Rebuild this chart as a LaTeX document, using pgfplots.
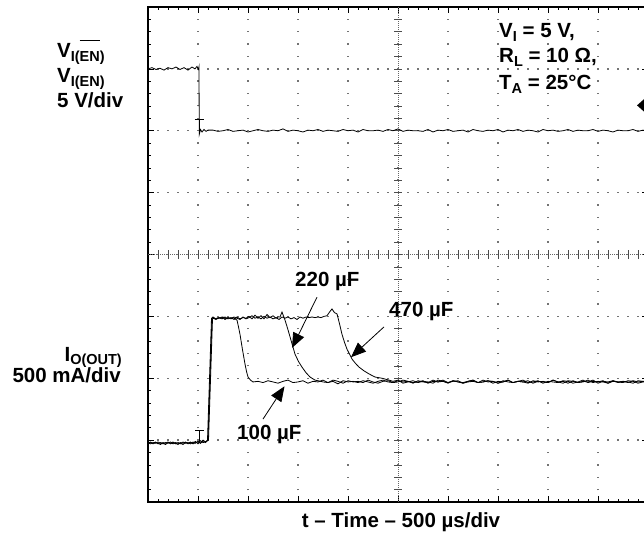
\documentclass[border=0pt]{standalone}
\usepackage{pgfplots}
\pgfplotsset{compat=1.18}
\usepackage{fontspec}
\setmainfont{Liberation Sans}
\usetikzlibrary{arrows.meta}
\newcommand\sub[1]{\raisebox{-4pt}{\fontsize{14.5}{14.5}\selectfont #1}}
\newcommand\subb[1]{\raisebox{-3pt}{\fontsize{14.5}{14.5}\selectfont #1}}
\newcommand\ovl[1]{\sbox0{#1}\rlap{\raisebox{21pt}{\rule{\wd0}{1.2pt}}}\usebox0}
\begin{document}
\begin{tikzpicture}[font=\fontsize{20.5}{23}\selectfont\bfseries]
\path[use as bounding box] (0,0) rectangle (644pt,534pt);
\begin{axis}[at={(148pt,32pt)}, anchor=south west, scale only axis,
  width=500pt, height=495pt, xmin=0, xmax=10, ymin=0, ymax=8,
  clip=false,
  axis line style={line width=1.6pt, black},
  xtick={0,...,10}, ytick={0,...,8},
  minor x tick num=4, minor y tick num=4,
  xticklabels={}, yticklabels={},
  tick align=inside, major tick length=6pt, minor tick length=3pt,
  every tick/.style={black, line width=0.6pt},
  grid=major,
  major x grid style={black!55, line width=1.3pt, dash pattern=on 1.3pt off 11.08pt, dash phase=0.65pt},
  major y grid style={black!55, line width=1.3pt, dash pattern=on 1.3pt off 8.7pt, dash phase=0.65pt},
  ]
% centre lines with small division ticks
\draw[black!60, line width=0.6pt, dash pattern=on 1pt off 1pt] (axis cs:0,4) -- (axis cs:10,4);
\draw[black!60, line width=0.6pt, dash pattern=on 1pt off 1pt] (axis cs:5,0) -- (axis cs:5,8);
\pgfplotsinvokeforeach{0.2,0.4,...,9.8}{\draw[black!70, line width=0.7pt] (axis cs:#1,3.935) -- (axis cs:#1,4.065);}
\pgfplotsinvokeforeach{0.2,0.4,...,7.8}{\draw[black!70, line width=0.7pt] (axis cs:4.92,#1) -- (axis cs:5.08,#1);}

% V_I(EN) trace
\addplot[black, line width=0.8pt] coordinates {
(0,7.00)(0.08,7.02)(0.16,6.99)(0.24,7.01)(0.32,6.98)(0.40,7.02)(0.48,7.00)(0.56,7.03)(0.64,6.99)(0.72,7.02)(0.80,6.98)(0.88,7.03)(0.94,7.00)(0.98,7.04)(1.01,6.99)(1.02,7.03)(1.025,5.94)(1.05,6.02)(1.08,5.98)(1.12,6.02)(1.16,5.99)(1.2,6.01)
(1.3,6.01)(1.4,5.99)(1.5,6.00)(1.6,6.02)(1.7,5.99)(1.8,6.00)(1.9,6.01)(2.0,5.98)(2.1,6.00)(2.2,6.02)(2.3,6.00)(2.4,5.99)(2.5,6.01)(2.6,6.00)(2.7,6.03)(2.8,5.99)(2.9,6.01)(3.0,6.00)(3.1,5.98)(3.2,6.01)(3.3,6.00)(3.4,6.02)(3.5,5.99)(3.6,6.01)(3.7,6.00)(3.8,5.99)(3.9,6.02)(4.0,6.00)(4.1,6.01)(4.2,5.98)(4.3,6.02)(4.4,6.00)(4.5,6.00)(4.6,6.01)(4.7,5.99)(4.8,6.02)(4.9,6.00)(5.0,6.03)(5.1,5.99)(5.2,6.01)(5.3,6.00)(5.4,6.00)(5.5,5.99)(5.6,6.02)(5.7,5.98)(5.8,6.01)(5.9,6.00)(6.0,6.02)(6.1,5.99)(6.2,6.00)(6.3,6.01)(6.4,5.98)(6.5,6.02)(6.6,6.00)(6.7,5.99)(6.8,6.01)(6.9,6.00)(7.0,6.02)(7.1,5.98)(7.2,6.01)(7.3,6.00)(7.4,6.02)(7.5,5.99)(7.6,6.01)(7.7,6.00)(7.8,5.98)(7.9,6.02)(8.0,6.00)(8.1,6.01)(8.2,5.99)(8.3,6.00)(8.4,6.02)(8.5,5.99)(8.6,6.01)(8.7,6.00)(8.8,6.00)(8.9,6.02)(9.0,5.99)(9.1,6.01)(9.2,6.00)(9.3,5.98)(9.4,6.01)(9.5,6.00)(9.6,6.00)(9.7,6.02)(9.8,5.99)(9.9,6.01)(10.0,6.00)
};

% I_O(OUT), 100 uF
\addplot[black, line width=0.8pt] coordinates {
(0,0.95)(0.05,0.97)(0.1,0.94)(0.15,0.96)(0.2,0.95)(0.25,0.93)(0.3,0.96)(0.35,0.95)(0.4,0.97)(0.45,0.94)(0.5,0.96)(0.55,0.95)(0.6,0.93)(0.65,0.96)(0.7,0.95)(0.75,0.97)(0.8,0.94)(0.85,0.96)(0.9,0.95)(0.95,0.98)(1.0,0.94)(1.05,0.99)(1.1,0.96)(1.14,0.97)(1.17,0.98)(1.20,1.01)(1.28,2.97)(1.30,2.99)(1.35,2.96)(1.40,2.98)(1.45,2.97)(1.50,2.99)(1.55,2.96)(1.60,2.98)(1.65,2.97)(1.70,2.98)(1.74,2.96)(1.78,2.94)(1.81,2.83)(1.84,2.71)(1.89,2.46)(1.94,2.23)(1.97,2.11)(2.00,2.02)(2.05,1.97)(2.10,1.94)
(2.2,1.95)(2.3,1.93)(2.4,1.96)(2.5,1.94)(2.6,1.92)(2.7,1.95)(2.8,1.97)(2.9,1.93)(3.0,1.94)(3.1,1.96)(3.2,1.92)(3.3,1.95)(3.4,1.94)(3.5,1.97)(3.6,1.93)(3.7,1.95)(3.8,1.91)(3.9,1.96)(4.0,1.94)(4.1,1.95)(4.2,1.93)(4.3,1.96)(4.4,1.94)(4.5,1.92)(4.6,1.95)(4.7,1.97)(4.8,1.94)(4.9,1.93)(5.0,1.96)(5.1,1.94)(5.2,1.95)(5.3,1.92)(5.4,1.96)(5.5,1.94)(5.6,1.93)(5.7,1.97)(5.8,1.94)(5.9,1.95)(6.0,1.92)(6.1,1.96)(6.2,1.94)(6.3,1.93)(6.4,1.95)(6.5,1.97)(6.6,1.93)(6.7,1.94)(6.8,1.96)(6.9,1.92)(7.0,1.95)(7.1,1.94)(7.2,1.97)(7.3,1.93)(7.4,1.95)(7.5,1.94)(7.6,1.92)(7.7,1.96)(7.8,1.94)(7.9,1.95)(8.0,1.93)(8.1,1.97)(8.2,1.94)(8.3,1.92)(8.4,1.96)(8.5,1.95)(8.6,1.93)(8.7,1.94)(8.8,1.97)(8.9,1.93)(9.0,1.95)(9.1,1.94)(9.2,1.92)(9.3,1.96)(9.4,1.94)(9.5,1.95)(9.6,1.93)(9.7,1.96)(9.8,1.94)(9.9,1.95)(10.0,1.93)
};

% I_O(OUT), 220 uF
\addplot[black, line width=0.8pt] coordinates {
(0,0.96)(0.05,0.94)(0.1,0.96)(0.15,0.95)(0.2,0.97)(0.25,0.95)(0.3,0.94)(0.35,0.96)(0.4,0.95)(0.45,0.97)(0.5,0.94)(0.55,0.96)(0.6,0.95)(0.65,0.94)(0.7,0.97)(0.75,0.95)(0.8,0.96)(0.85,0.94)(0.9,0.97)(0.95,0.95)(1.0,0.98)(1.05,0.95)(1.1,1.00)(1.15,0.97)(1.21,1.00)(1.29,2.96)
(1.30,2.97)(1.36,2.95)(1.42,2.98)(1.48,2.96)(1.54,2.99)(1.60,2.96)(1.66,2.98)(1.72,2.95)(1.78,2.99)(1.84,2.96)(1.90,2.98)(1.96,2.97)(2.02,3.00)(2.08,2.96)(2.14,3.02)(2.20,2.97)(2.26,3.01)(2.32,2.96)(2.38,3.03)(2.44,2.98)(2.50,3.01)(2.56,2.97)(2.60,2.99)
(2.64,2.99)(2.68,3.07)(2.74,2.94)(2.79,2.81)(2.84,2.67)(2.89,2.53)(2.94,2.39)(3.01,2.27)(3.08,2.18)(3.16,2.09)(3.24,2.02)(3.34,1.97)
(3.4,1.96)(3.5,1.94)(3.6,1.93)(3.7,1.97)(3.8,1.95)(3.9,1.92)(4.0,1.96)(4.1,1.94)(4.2,1.95)(4.3,1.93)(4.4,1.97)(4.5,1.94)(4.6,1.92)(4.7,1.95)(4.8,1.96)(4.9,1.93)(5.0,1.94)(5.1,1.97)(5.2,1.95)(5.3,1.93)(5.4,1.94)(5.5,1.96)(5.6,1.92)(5.7,1.95)(5.8,1.94)(5.9,1.97)(6.0,1.93)(6.1,1.95)(6.2,1.96)(6.3,1.92)(6.4,1.94)(6.5,1.95)(6.6,1.93)(6.7,1.97)(6.8,1.94)(6.9,1.95)(7.0,1.92)(7.1,1.96)(7.2,1.94)(7.3,1.93)(7.4,1.95)(7.5,1.97)(7.6,1.93)(7.7,1.94)(7.8,1.96)(7.9,1.92)(8.0,1.95)(8.1,1.94)(8.2,1.93)(8.3,1.96)(8.4,1.95)(8.5,1.92)(8.6,1.94)(8.7,1.97)(8.8,1.93)(8.9,1.95)(9.0,1.94)(9.1,1.96)(9.2,1.92)(9.3,1.95)(9.4,1.94)(9.5,1.93)(9.6,1.96)(9.7,1.95)(9.8,1.92)(9.9,1.94)(10.0,1.95)
};

% I_O(OUT), 470 uF
\addplot[black, line width=0.8pt] coordinates {
(0,0.94)(0.05,0.96)(0.1,0.95)(0.15,0.97)(0.2,0.94)(0.25,0.96)(0.3,0.95)(0.35,0.93)(0.4,0.96)(0.45,0.95)(0.5,0.97)(0.55,0.94)(0.6,0.96)(0.65,0.95)(0.7,0.93)(0.75,0.96)(0.8,0.95)(0.85,0.97)(0.9,0.94)(0.95,0.96)(1.0,0.97)(1.05,0.95)(1.1,0.99)(1.15,0.96)(1.19,1.00)(1.27,2.97)
(1.30,2.98)(1.36,2.96)(1.42,2.97)(1.48,2.99)(1.54,2.95)(1.60,2.98)(1.66,2.96)(1.72,2.99)(1.78,2.97)(1.84,2.95)(1.90,2.99)(1.96,2.96)(2.02,2.98)(2.08,3.01)(2.14,2.97)(2.20,2.99)(2.26,2.96)(2.32,3.00)(2.38,2.97)(2.44,2.99)(2.50,2.96)(2.56,2.98)(2.62,2.95)(2.68,2.99)(2.74,2.97)(2.80,2.99)(2.86,2.96)(2.92,2.98)(2.98,2.95)(3.04,2.99)(3.10,2.97)(3.16,2.99)(3.22,2.98)(3.28,2.99)(3.34,2.98)(3.40,2.99)(3.46,2.98)(3.52,3.00)(3.58,3.01)
(3.64,3.08)(3.68,3.12)(3.73,3.06)(3.78,3.04)(3.83,2.88)(3.88,2.71)(3.93,2.58)(3.98,2.47)(4.08,2.31)(4.15,2.24)(4.22,2.18)(4.32,2.12)(4.42,2.07)(4.54,2.02)(4.68,2.00)(4.82,1.97)
(4.9,1.95)(5.0,1.97)(5.1,1.92)(5.2,1.94)(5.3,1.96)(5.4,1.93)(5.5,1.95)(5.6,1.94)(5.7,1.92)(5.8,1.97)(5.9,1.95)(6.0,1.93)(6.1,1.96)(6.2,1.94)(6.3,1.92)(6.4,1.95)(6.5,1.97)(6.6,1.93)(6.7,1.94)(6.8,1.96)(6.9,1.95)(7.0,1.92)(7.1,1.94)(7.2,1.97)(7.3,1.93)(7.4,1.95)(7.5,1.94)(7.6,1.96)(7.7,1.92)(7.8,1.95)(7.9,1.94)(8.0,1.93)(8.1,1.97)(8.2,1.94)(8.3,1.95)(8.4,1.92)(8.5,1.96)(8.6,1.93)(8.7,1.95)(8.8,1.94)(8.9,1.97)(9.0,1.92)(9.1,1.95)(9.2,1.94)(9.3,1.96)(9.4,1.93)(9.5,1.95)(9.6,1.94)(9.7,1.92)(9.8,1.96)(9.9,1.95)(10.0,1.94)
};

% trigger markers and channel marker
\draw[black, line width=0.8pt] (axis cs:0.93,6.18) -- (axis cs:1.11,6.18) (axis cs:1.02,6.18) -- (axis cs:1.02,5.97);
\draw[black, line width=0.8pt] (axis cs:0.94,1.15) -- (axis cs:1.12,1.15) (axis cs:1.03,1.15) -- (axis cs:1.03,0.97);
\fill[black] (axis cs:9.78,6.41) -- (axis cs:9.92,6.51) -- (axis cs:9.92,6.31) -- cycle;

% annotation arrows
\draw[black, line width=0.8pt, -{Triangle[length=15pt,width=12pt]}] (axis cs:3.38,3.31) -- (axis cs:2.88,2.49);
\draw[black, line width=0.8pt, -{Triangle[length=15pt,width=12pt]}] (axis cs:4.72,2.83) -- (axis cs:4.06,2.34);
\draw[black, line width=0.8pt, -{Triangle[length=15pt,width=12pt]}] (axis cs:2.30,1.34) -- (axis cs:2.73,1.87);
\end{axis}

\begin{scope}[every node/.style={inner sep=0pt}]
\node[anchor=base west] at (57pt,476pt) {V\sub{I(\ovl{EN})}};
\node[anchor=base west] at (57pt,451pt) {V\sub{I(EN)}};
\node[anchor=base west] at (57pt,426pt) {5 V/div};
\node[anchor=base east] at (122pt,172pt) {I\subb{O(OUT)}};
\node[anchor=base east] at (121pt,151pt) {500 mA/div};
\node[anchor=base west] at (499pt,496pt) {V\sub{I} = 5 V,};
\node[anchor=base west] at (499pt,471pt) {R\sub{L} = 10 Ω,};
\node[anchor=base west] at (499pt,444pt) {T\sub{A} = 25°C};
\node[anchor=base west] at (295pt,247pt) {220 µF};
\node[anchor=base west] at (389pt,217pt) {470 µF};
\node[anchor=base west] at (237pt,94pt) {100 µF};
\node[anchor=base] at (401pt,6pt) {t – Time – 500 µs/div};
\end{scope}
\end{tikzpicture}
\end{document}
